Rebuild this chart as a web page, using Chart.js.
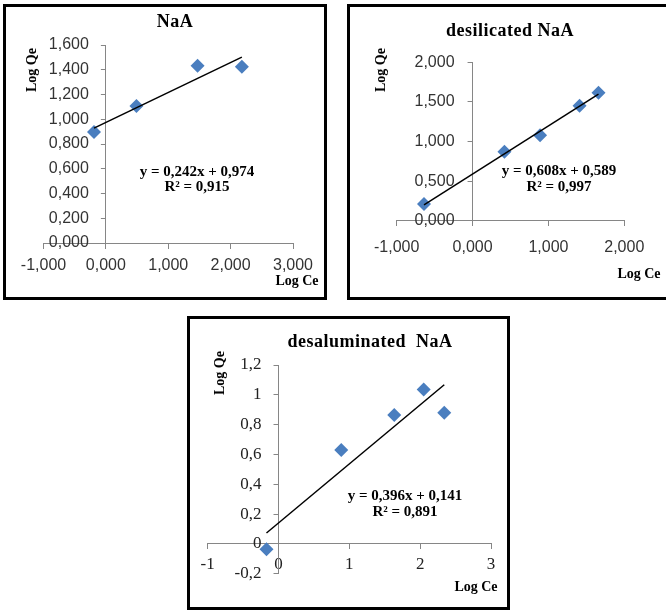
<!DOCTYPE html>
<html>
<head>
<meta charset="utf-8">
<script src="https://cdn.jsdelivr.net/npm/chart.js@4.4.1/dist/chart.umd.min.js"></script>
<style>
  body { margin: 0; background: #fff; width: 666px; height: 611px; position: relative; overflow: hidden; }
  .box { position: absolute; border: 3px solid #000; box-sizing: border-box; background: #fff; }
  canvas { position: absolute; }
  .lbl { position: absolute; font-family: 'Liberation Serif', 'Times New Roman', serif; font-weight: bold;
         white-space: nowrap; transform: translate(-50%, -50%); color: #000; line-height: 1; }
  .rot { transform: translate(-50%, -50%) rotate(-90deg); }
</style>
</head>
<body>

<div class="box" style="left:3px; top:4px; width:324px; height:296px;"></div>
<div class="box" style="left:347px; top:4px; width:330px; height:296px;"></div>
<div class="box" style="left:187px; top:316px; width:323px; height:294px;"></div>

<canvas id="c1" width="318" height="290" style="left:6px; top:7px;"></canvas>
<canvas id="c2" width="316" height="290" style="left:350px; top:7px;"></canvas>
<canvas id="c3" width="317" height="288" style="left:190px; top:319px;"></canvas>

<!-- NaA -->
<div class="lbl" style="left:175px; top:21px; font-size:18px; letter-spacing:0.5px;">NaA</div>
<div class="lbl rot" style="left:32px; top:70px; font-size:14px;">Log Qe</div>
<div class="lbl" style="left:297px; top:281px; font-size:14px;">Log Ce</div>
<div class="lbl" style="left:197px; top:171px; font-size:15px;">y = 0,242x + 0,974</div>
<div class="lbl" style="left:197px; top:186px; font-size:15px;">R² = 0,915</div>

<!-- desilicated NaA -->
<div class="lbl" style="left:510px; top:30px; font-size:18px; letter-spacing:0.5px;">desilicated NaA</div>
<div class="lbl rot" style="left:381px; top:70px; font-size:14px;">Log Qe</div>
<div class="lbl" style="left:639px; top:274px; font-size:14px;">Log Ce</div>
<div class="lbl" style="left:559px; top:170px; font-size:15px;">y = 0,608x + 0,589</div>
<div class="lbl" style="left:559px; top:186px; font-size:15px;">R² = 0,997</div>

<!-- desaluminated NaA -->
<div class="lbl" style="left:370px; top:341px; font-size:18px; letter-spacing:0.5px;">desaluminated&nbsp; NaA</div>
<div class="lbl rot" style="left:220px; top:373px; font-size:14px;">Log Qe</div>
<div class="lbl" style="left:476px; top:587px; font-size:14px;">Log Ce</div>
<div class="lbl" style="left:405px; top:495px; font-size:15px;">y = 0,396x + 0,141</div>
<div class="lbl" style="left:405px; top:511px; font-size:15px;">R² = 0,891</div>

<script>
// NaA
const naaLogCe = [-0.19, 0.49, 1.47, 2.18];
const naaLogQe = [0.897, 1.107, 1.433, 1.425];
const naaFit = { slope: 0.242, intercept: 0.974 };

// desilicated NaA
const desilLogCe = [-0.64, 0.42, 0.89, 1.41, 1.66];
const desilLogQe = [0.21, 0.87, 1.08, 1.45, 1.615];
const desilFit = { slope: 0.608, intercept: 0.589 };

// desaluminated NaA
const desalLogCe = [-0.17, 0.886, 1.634, 2.05, 2.34];
const desalLogQe = [-0.036, 0.63, 0.865, 1.036, 0.88];
const desalFit = { slope: 0.396, intercept: 0.141 };

const markerColor = '#4a7ebf';
const axisColor = '#868686';

const fmt3 = v => v.toFixed(3).replace('.', ',');
const fmt1 = v => String(+v.toFixed(1)).replace('.', ',');

function toPoints(xs, ys) {
    return xs.map((x, i) => ({ x: x, y: ys[i] }));
}

function trendPoints(xs, fit) {
    const lo = Math.min(...xs);
    const hi = Math.max(...xs);
    return [lo, hi].map(x => ({ x: x, y: fit.slope * x + fit.intercept }));
}

function axis(min, max, step, where, fmt, font, color, pad) {
    const a = {
        type: 'linear',
        min: min,
        max: max,
        position: where,
        grid: { drawOnChartArea: false, drawTicks: true, tickLength: 5, color: axisColor },
        border: { color: axisColor, width: 1 },
        ticks: {
            stepSize: step,
            autoSkip: false,
            maxRotation: 0,
            padding: pad,
            color: color,
            font: font,
            callback: v => fmt(v)
        }
    };
    // vertical axis takes no room, it is moved onto x = 0 after layout
    if (where === 'left') a.afterFit = s => { s.width = 0; };
    return a;
}

// put the vertical axis where x = 0, as the original does
const yAtZero = {
    id: 'yAtZero',
    afterLayout(chart) {
        const y = chart.scales.y;
        const x0 = chart.scales.x.getPixelForValue(0);
        y.left = 0;     // labels are clipped to left..right
        y.right = x0;
        y._labelItems = null;
        y._gridLineItems = null;
    }
};

function makeChart(id, xs, ys, fit, xAxis, yAxis, padding) {
    return new Chart(document.getElementById(id), {
        type: 'scatter',
        data: {
            datasets: [{
                type: 'line',
                data: trendPoints(xs, fit),
                borderColor: '#000',
                borderWidth: 1.5,
                pointRadius: 0,
                fill: false,
                order: 0
            }, {
                data: toPoints(xs, ys),
                pointStyle: 'rectRot',
                pointRadius: 7,
                backgroundColor: markerColor,
                borderColor: markerColor,
                borderWidth: 0,
                order: 1
            }]
        },
        options: {
            responsive: false,
            animation: false,
            devicePixelRatio: 1,
            layout: { padding: padding },
            plugins: { legend: { display: false }, tooltip: { enabled: false } },
            scales: { x: xAxis, y: yAxis }
        },
        plugins: [yAtZero]
    });
}

const sansFont = { family: "'Liberation Sans', Arial, sans-serif", size: 16 };
const serifFont = { family: "'Liberation Serif', 'Times New Roman', serif", size: 17 };

makeChart('c1', naaLogCe, naaLogQe, naaFit,
    axis(-1, 3, 1, { y: 0 }, fmt3, sansFont, '#333', 8),
    axis(0, 1.6, 0.2, 'left', fmt3, sansFont, '#333', 12),
    { left: 37.5, right: 31, top: 38, bottom: 54 });

makeChart('c2', desilLogCe, desilLogQe, desilFit,
    axis(-1, 2, 1, { y: 0 }, fmt3, sansFont, '#333', 12),
    axis(0, 2, 0.5, 'left', fmt3, sansFont, '#333', 13),
    { left: 46.7, right: 41.7, top: 55.3, bottom: 76.3 });

makeChart('c3', desalLogCe, desalLogQe, desalFit,
    axis(-1, 3, 1, { y: 0 }, fmt1, serifFont, '#222', 5),
    axis(-0.2, 1.2, 0.2, 'left', fmt1, serifFont, '#222', 12),
    { left: 17.7, right: 16, top: 46, bottom: 33.2 });
</script>
</body>
</html>
